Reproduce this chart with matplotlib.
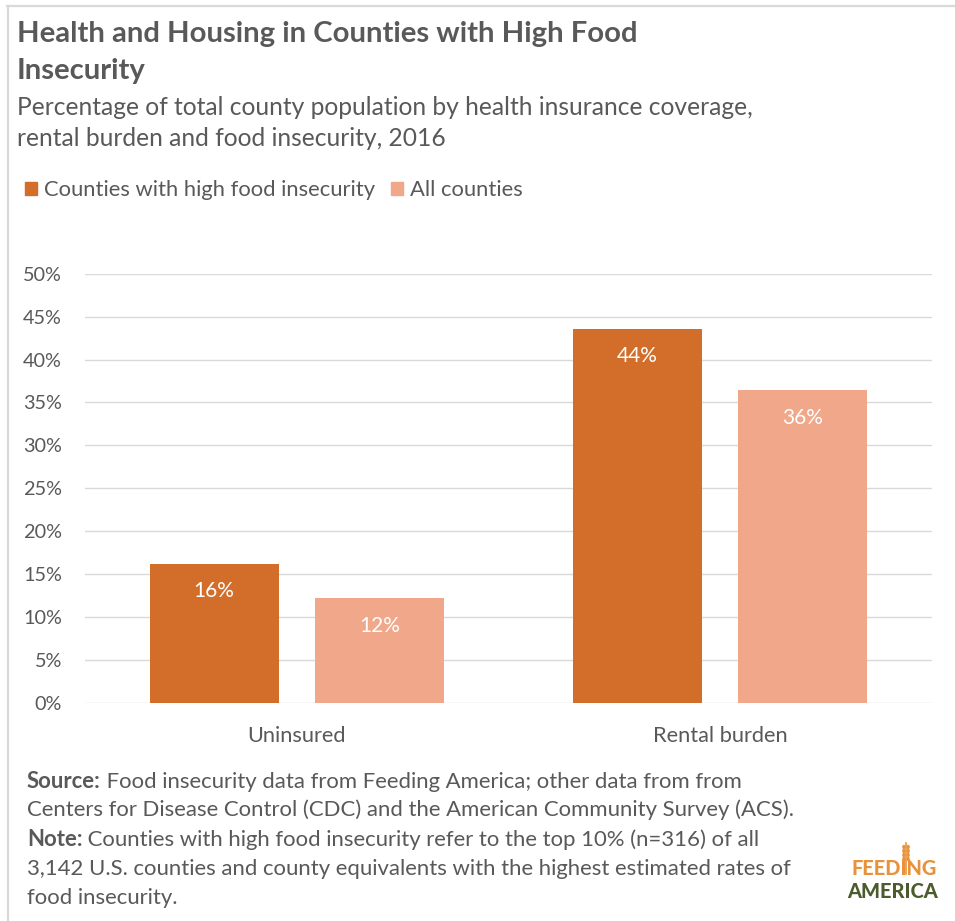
import matplotlib
matplotlib.use("Agg")
import matplotlib.pyplot as plt
from matplotlib.lines import Line2D
from matplotlib.patches import Ellipse, Rectangle
import numpy as np

# ---- data -------------------------------------------------------------
categories = ["Uninsured", "Rental burden"]
high_fi = [16.2, 43.6]        # counties with high food insecurity (%)
all_counties = [12.2, 36.4]   # all counties (%)
series_names = ["Counties with high food insecurity", "All counties"]
y_ticks = [0, 5, 10, 15, 20, 25, 30, 35, 40, 45, 50]

title_lines = ["Health and Housing in Counties with High Food", "Insecurity"]
subtitle_lines = ["Percentage of total county population by health insurance coverage,",
                  "rental burden and food insecurity, 2016"]
source_lines = [
    ("Source:", " Food insecurity data from Feeding America; other data from from"),
    (None, "Centers for Disease Control (CDC) and the American Community Survey (ACS)."),
    ("Note:", " Counties with high food insecurity refer to the top 10% (n=316) of all"),
    (None, "3,142 U.S. counties and county equivalents with the highest estimated rates of"),
    (None, "food insecurity."),
]

# ---- style ------------------------------------------------------------
DARK = "#D26E2A"
LIGHT = "#F0A78A"
TEXT = "#595959"
GRID = "#D9D9D9"
plt.rcParams["font.family"] = ["Lato", "DejaVu Sans"]

W, H = 955, 921
fig = plt.figure(figsize=(W / 100, H / 100), dpi=100)
fig.patch.set_facecolor("white")
renderer = fig.canvas.get_renderer()


def fx(px):
    return px / W


def fy(py):
    return 1 - py / H


def size_for_width(s, width_px, **kw):
    """Font size (pt) at which string s spans width_px pixels."""
    probe = fig.text(0, 0, s, fontsize=20, **kw)
    w = probe.get_window_extent(renderer).width
    probe.remove()
    return 20 * width_px / w


# font sizes derived from the line lengths of the layout
fs_title = size_for_width(title_lines[0], 621, fontweight="bold")
fs_sub = size_for_width(subtitle_lines[0], 738)
fs_legend = size_for_width(series_names[0], 332)
fs_xtick = size_for_width("Uninsured", 99)
fs_ytick = size_for_width("50%", 39)
fs_value = size_for_width("16%", 41)
fs_note = size_for_width(source_lines[1][1], 768)
fs_logo = size_for_width("AMERICA", 91, fontweight="black")

# outer frame (top and left edges)
fig.add_artist(Line2D([fx(7), 1], [fy(6.5), fy(6.5)], color="#D9D9D9", lw=1.6))
fig.add_artist(Line2D([fx(7.5), fx(7.5)], [fy(6), 0], color="#D9D9D9", lw=1.6))

# title & subtitle, one baseline per line
for line, base in zip(title_lines, (41.7, 79.3)):
    fig.text(fx(17), fy(base), line, ha="left", va="baseline", fontsize=fs_title,
             fontweight="bold", color=TEXT)
for line, base in zip(subtitle_lines, (114.5, 146.5)):
    fig.text(fx(17), fy(base), line, ha="left", va="baseline", fontsize=fs_sub,
             color=TEXT)

# ---- plot area ----------------------------------------------------------
ax = fig.add_axes([fx(85), fy(702.7), fx(932) - fx(85), fy(273.7) - fy(702.7)])
x = np.arange(len(categories))
bw = 0.305
off = 0.195
b1 = ax.bar(x - off, high_fi, bw, color=DARK, label=series_names[0], zorder=3)
b2 = ax.bar(x + off, all_counties, bw, color=LIGHT, label=series_names[1], zorder=3)

for bars in (b1, b2):
    for rect in bars:
        v = rect.get_height()
        ax.annotate(f"{v:.0f}%", xy=(rect.get_x() + rect.get_width() / 2, v),
                    xytext=(0, -20), textcoords="offset points",
                    ha="center", va="center", color="white", fontsize=fs_value)

ax.set_xlim(-0.5, len(categories) - 0.5)
ax.set_ylim(0, 50)
ax.set_yticks(y_ticks)
ax.set_yticklabels([f"{t}%" for t in y_ticks])
ax.set_xticks(x)
ax.set_xticklabels(categories)
ax.tick_params(axis="both", length=0, colors=TEXT)
ax.tick_params(axis="y", pad=16.5, labelsize=fs_ytick)
ax.tick_params(axis="x", pad=16.5, labelsize=fs_xtick)
ax.grid(axis="y", color=GRID, lw=1.0, zorder=0)
ax.set_axisbelow(True)
for s in ax.spines.values():
    s.set_visible(False)

# legend
leg = fig.legend(handles=[Rectangle((0, 0), 1, 1, color=DARK),
                          Rectangle((0, 0), 1, 1, color=LIGHT)],
                 labels=series_names, loc="center left",
                 bbox_to_anchor=(fx(25), fy(190.5)), ncol=2, frameon=False,
                 fontsize=fs_legend, handlelength=0.55, handleheight=0.55,
                 handletextpad=0.32, columnspacing=0.7, labelcolor=TEXT,
                 borderaxespad=0, borderpad=0)

# ---- footer notes -----------------------------------------------------
note_ax = fig.add_axes([0, 0, 1, 1])
note_ax.axis("off")
for i, (bold, rest) in enumerate(source_lines):
    yy = fy(787.5 + i * 29)
    if bold:
        t = note_ax.text(fx(27), yy, bold, ha="left", va="baseline",
                         fontsize=fs_note, fontweight="bold", color=TEXT)
        note_ax.annotate(rest, xy=(1, 0), xycoords=t, ha="left", va="bottom",
                         fontsize=fs_note, color=TEXT)
    else:
        note_ax.text(fx(27), yy, rest, ha="left", va="baseline",
                     fontsize=fs_note, color=TEXT)

# ---- logo ----------------------------------------------------------------
LOGO_OR = "#E8923C"
LOGO_GR = "#4B5B2C"
note_ax.text(fx(894), fy(875), "FEEDING", ha="center", va="baseline",
             fontsize=fs_logo, fontweight="black", color=LOGO_OR)
note_ax.text(fx(893), fy(898), "AMERICA", ha="center", va="baseline",
             fontsize=fs_logo, fontweight="black", color=LOGO_GR)
# wheat stalk over the I
sx = fx(906)
note_ax.add_line(Line2D([sx, sx], [fy(874), fy(843)], color=LOGO_OR, lw=1.2))
for k in range(4):
    yk = fy(847 + k * 4)
    for side in (-1, 1):
        note_ax.add_patch(Ellipse((sx + side * fx(2.2), yk), fx(3.2), 4.5 / H,
                                  angle=0, color=LOGO_OR, lw=0))

fig.savefig("out.png", dpi=100, facecolor="white")
